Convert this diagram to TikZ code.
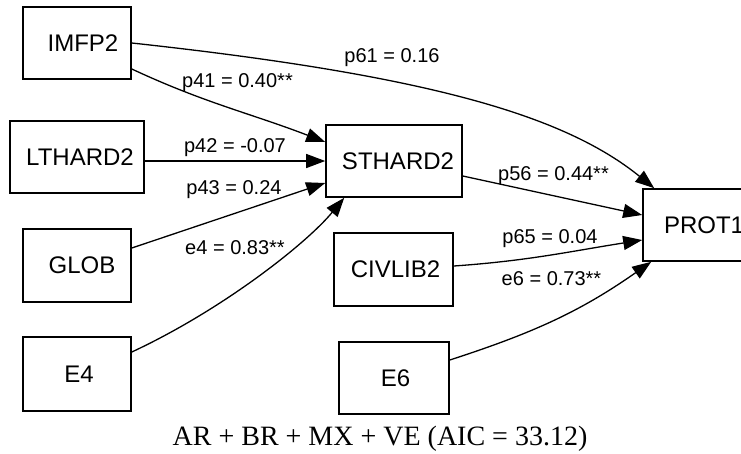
\documentclass[tikz,border=0pt]{standalone}
\usepackage{fontspec}
\setmainfont{Liberation Serif}
\newfontfamily\helv{Liberation Sans}
\usetikzlibrary{arrows.meta}
\tikzset{
  box/.style={draw, line width=1.6pt, inner sep=0pt, font=\helv\fontsize{24}{28}\selectfont},
  edge/.style={line width=1.3pt, -{Triangle[length=19pt,width=14pt]}},
  elab/.style={anchor=base, inner sep=0pt, font=\helv\fontsize{20}{24}\selectfont},
}
\begin{document}
\begin{tikzpicture}[x=1pt,y=1pt]
\useasboundingbox (0,0) rectangle (741,-453);
\clip (0,0) rectangle (741,-453);
% nodes
\node[box, minimum width=108pt, minimum height=72pt] (IMFP2) at (77,-43) {\hspace*{12pt}IMFP2};
\node[box, minimum width=134pt, minimum height=72pt] (LTHARD2) at (77,-157) {\hspace*{6pt}LTHARD2};
\node[box, minimum width=108pt, minimum height=73pt] (GLOB) at (77,-265.5) {\hspace*{10pt}GLOB};
\node[box, minimum width=108pt, minimum height=74pt] (E4) at (77,-374) {\hspace*{4pt}E4};
\node[box, minimum width=136pt, minimum height=72pt] (STHARD2) at (394,-161) {\hspace*{8pt}STHARD2};
\node[box, minimum width=119pt, minimum height=73pt] (CIVLIB2) at (393.5,-269.5) {\hspace*{4pt}CIVLIB2};
\node[box, minimum width=110pt, minimum height=72pt] (E6) at (394,-378) {\hspace*{3pt}E6};
\node[box, minimum width=116pt, minimum height=72pt] (PROT1) at (701,-225) {\hspace*{6pt}PROT1};
% edges
\draw[edge] (IMFP2.east) .. controls (431,-75.5) and (565,-116) .. ([xshift=12pt]PROT1.north west);
\draw[edge] ([yshift=-26pt]IMFP2.east) to[out=-25,in=159] ([yshift=19pt]STHARD2.west);
\draw[edge] (LTHARD2.east |- STHARD2.west) -- (STHARD2.west);
\draw[edge] ([yshift=17.5pt]GLOB.east) -- ([yshift=-22pt]STHARD2.west);
\draw[edge] ([yshift=22pt]E4.east) .. controls (222,-310) and (306,-244) .. ([xshift=19pt]STHARD2.south west);
\draw[edge] ([yshift=-15pt]STHARD2.east) -- ([yshift=10pt]PROT1.west);
\draw[edge] ([yshift=3.5pt]CIVLIB2.east) to[out=4,in=189] ([yshift=-15pt]PROT1.west);
\draw[edge] ([yshift=18pt]E6.east) to[out=18,in=-145] ([xshift=9pt]PROT1.south west);
% edge labels
\node[elab] (l61) at (392,-62) {p61 = 0.16};
\node[elab] (l41) at (237.5,-87) {p41 = 0.40**};
\node[elab] (l42) at (235,-152) {p42 = -0.07};
\node[elab] (l43) at (234,-194) {p43 = 0.24};
\node[elab] (le4) at (235,-254) {e4 = 0.83**};
\node[elab] (l56) at (553.5,-180) {p56 = 0.44**};
\node[elab] (l65) at (550,-243) {p65 = 0.04};
\node[elab] (le6) at (551.5,-285) {e6 = 0.73**};
% caption
\node[anchor=base, inner sep=0pt, font=\fontsize{28}{32}\selectfont] (cap) at (380,-445) {AR + BR + MX + VE (AIC = 33.12)};
\end{tikzpicture}
\end{document}
